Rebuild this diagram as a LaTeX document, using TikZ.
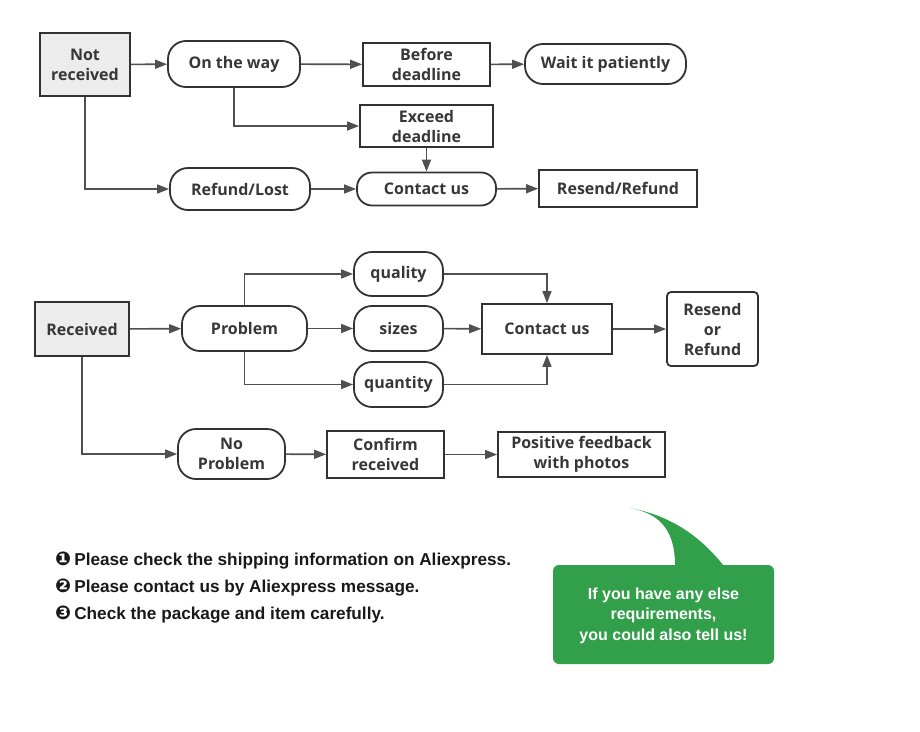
\documentclass[tikz,border=0pt]{standalone}
\usepackage{fontspec}
\setmainfont{Open Sans}
\newfontfamily\notefont{Liberation Sans}
\newfontfamily\dingfont{DejaVu Sans}
\newcommand\mynum[1]{{\dingfont\fontsize{19}{20}\selectfont #1}}
\usetikzlibrary{arrows.meta}
\definecolor{linegray}{RGB}{80,80,80}
\definecolor{boxgray}{RGB}{50,50,50}
\definecolor{txtgray}{RGB}{55,55,55}
\definecolor{fillgray}{RGB}{236,236,236}
\definecolor{bubblegreen}{RGB}{50,160,75}
\tikzset{
  base/.style={draw=boxgray, line width=1.8pt, align=center, inner sep=0pt,
    text=txtgray, font=\fontsize{16}{20}\selectfont\bfseries},
  sqbox/.style={base},
  startbox/.style={base, fill=fillgray, line width=2.4pt},
  pill/.style={base, rounded corners=18pt},
  softbox/.style={base, rounded corners=4pt},
  arr/.style={draw=linegray, line width=1.6pt, -{Triangle[length=12pt,width=9pt]}},
  note/.style={anchor=west, inner sep=0pt, text=black!90, font=\notefont\fontsize{17.2}{20}\selectfont\bfseries},
}
\begin{document}
\begin{tikzpicture}[x=1pt,y=-1pt]
\useasboundingbox (0,0) rectangle (920,731);
% ---------- top section ----------
\node[startbox, minimum width=90pt, minimum height=63pt] (notrec) at (85,64.5) {Not\\received};
\node[pill, minimum width=132pt, minimum height=46pt] (onway) at (234,64) {On the way};
\node[sqbox, minimum width=127pt, minimum height=43pt] (before) at (426.5,64.5) {Before\\deadline};
\node[pill, minimum width=161pt, minimum height=40pt] (wait) at (605.5,64) {Wait it patiently};
\node[sqbox, minimum width=133pt, minimum height=42pt] (exceed) at (426.5,126) {Exceed\\deadline};
\node[pill, minimum width=139pt, minimum height=33pt, rounded corners=15pt] (contact1) at (426.5,189) {Contact us};
\node[pill, minimum width=140pt, minimum height=42pt] (refund) at (240,189) {Refund/Lost};
\node[sqbox, minimum width=158pt, minimum height=37pt] (resend1) at (618,188.5) {Resend/Refund};

\draw[arr] (notrec) -- (onway);
\draw[arr] (onway) -- (before);
\draw[arr] (before) -- (wait);
\draw[arr] (onway.south) |- (exceed.west);
\draw[arr] (exceed) -- (contact1);
\draw[arr] (notrec.south) |- (refund.west);
\draw[arr] (refund) -- (contact1);
\draw[arr] (contact1) -- (resend1);

% ---------- bottom section ----------
\node[startbox, minimum width=94pt, minimum height=54pt] (received) at (82,329) {Received};
\node[pill, minimum width=125pt, minimum height=45pt] (problem) at (244.5,328.5) {Problem};
\node[pill, minimum width=89pt, minimum height=44pt] (quality) at (398.5,274) {quality};
\node[pill, minimum width=89pt, minimum height=45pt] (sizes) at (398.5,328.5) {sizes};
\node[pill, minimum width=89pt, minimum height=45pt] (quantity) at (398.5,384.5) {quantity};
\node[sqbox, minimum width=130pt, minimum height=50pt] (contact2) at (547,329) {Contact us};
\node[softbox, minimum width=91pt, minimum height=74pt] (resend2) at (712.5,329) {Resend\\or\\Refund};
\node[pill, minimum width=107pt, minimum height=50pt] (noprob) at (231.5,454) {No\\Problem};
\node[sqbox, minimum width=117pt, minimum height=47pt] (confirm) at (385.5,454.5) {Confirm\\received};
\node[sqbox, minimum width=167pt, minimum height=45pt] (positive) at (581.5,454.5) {Positive feedback\\with photos};

\draw[arr] (received) -- (problem);
\draw[arr] (problem.north) |- (quality.west);
\draw[arr] (problem) -- (sizes);
\draw[arr] (problem.south) |- (quantity.west);
\draw[arr] (quality.east) -| (contact2.north);
\draw[arr] (sizes) -- (contact2);
\draw[arr] (quantity.east) -| (contact2.south);
\draw[arr] (contact2) -- (resend2);
\draw[arr] (received.south) |- (noprob.west);
\draw[arr] (noprob) -- (confirm);
\draw[arr] (confirm) -- (positive);

% ---------- notes ----------
\node[note] (n1) at (55,561) {\mynum{❶}\hspace{3pt}Please check the shipping information on Aliexpress.};
\node[note] (n2) at (55,588) {\mynum{❷}\hspace{3pt}Please contact us by Aliexpress message.};
\node[note] (n3) at (55,615) {\mynum{❸}\hspace{3pt}Check the package and item carefully.};

% ---------- speech bubble ----------
\fill[bubblegreen] (630,508) .. controls (662,514) and (676,532) .. (675,570)
  -- (727,570) .. controls (702,537) and (672,516) .. (630,508) -- cycle;
\fill[bubblegreen, rounded corners=6pt] (553,565) rectangle (774,664);
\node[align=center, text=white, inner sep=0pt, font=\notefont\fontsize{16}{20.5}\selectfont\bfseries] (bubble) at (663.5,615.5)
  {If you have any else\\requirements,\\you could also tell us!};
\end{tikzpicture}
\end{document}
